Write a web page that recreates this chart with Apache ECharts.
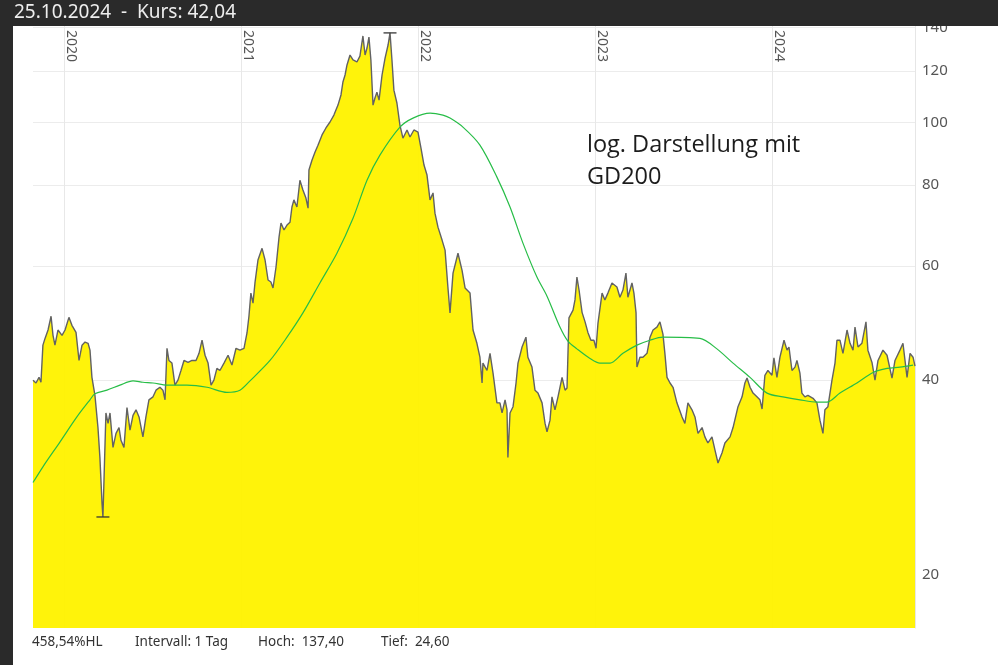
<!DOCTYPE html>
<html lang="de">
<head>
<meta charset="UTF-8">
<title>Kurs</title>
<script src="https://cdn.jsdelivr.net/npm/echarts@6.0.0/dist/echarts.min.js"></script>
<style>
  html, body { margin: 0; padding: 0; background: #fff; }
  #main { width: 998px; height: 665px; }
</style>
</head>
<body>
<div id="main"></div>
<script>
// Jahresmarken (oben) und Kursmarken (rechts, log. Skala)
const yearTicks = [2020, 2021, 2022, 2023, 2024];
const priceTicks = [20, 40, 60, 80, 100, 120, 140];

// Kurs [Jahr (dezimal), Kurs]
const kurs = [
  [2019.825, 40.0], [2019.842, 39.6], [2019.859, 40.4], [2019.870, 39.7], [2019.881, 45.3],
  [2019.893, 46.4], [2019.910, 47.8], [2019.927, 50.2], [2019.938, 46.9], [2019.949, 45.3],
  [2019.966, 47.8], [2019.989, 46.9], [2020.006, 47.8], [2020.028, 50.0], [2020.045, 48.6],
  [2020.068, 47.4], [2020.085, 42.9], [2020.102, 45.3], [2020.119, 45.8], [2020.136, 45.6],
  [2020.147, 44.5], [2020.158, 40.4], [2020.175, 37.9], [2020.192, 33.8], [2020.203, 30.4],
  [2020.215, 25.8], [2020.220, 24.6], [2020.226, 28.0], [2020.237, 35.6], [2020.249, 34.3],
  [2020.260, 35.6], [2020.277, 31.5], [2020.294, 33.1], [2020.311, 33.8], [2020.322, 32.3],
  [2020.339, 31.5], [2020.356, 36.3], [2020.373, 33.5], [2020.390, 35.3], [2020.407, 36.0],
  [2020.424, 35.1], [2020.446, 32.7], [2020.463, 35.1], [2020.480, 37.3], [2020.503, 37.7],
  [2020.520, 38.6], [2020.542, 39.0], [2020.559, 38.6], [2020.571, 37.3], [2020.582, 44.8],
  [2020.593, 42.9], [2020.610, 42.5], [2020.627, 39.3], [2020.644, 40.0], [2020.661, 41.4],
  [2020.678, 42.9], [2020.701, 42.6], [2020.723, 42.9], [2020.746, 42.9], [2020.763, 44.0],
  [2020.780, 46.1], [2020.797, 43.7], [2020.814, 42.5], [2020.831, 39.3], [2020.847, 40.0],
  [2020.864, 41.7], [2020.881, 41.4], [2020.904, 42.5], [2020.927, 43.7], [2020.949, 42.2],
  [2020.972, 44.8], [2020.994, 44.5], [2021.017, 44.8], [2021.034, 47.3], [2021.045, 50.2],
  [2021.056, 54.5], [2021.068, 52.6], [2021.079, 56.5], [2021.096, 61.3], [2021.119, 63.9],
  [2021.136, 61.3], [2021.153, 57.1], [2021.169, 56.7], [2021.181, 55.5], [2021.198, 59.8],
  [2021.215, 66.5], [2021.226, 69.9], [2021.243, 68.2], [2021.260, 69.4], [2021.277, 70.1],
  [2021.288, 74.0], [2021.299, 75.9], [2021.316, 74.0], [2021.333, 81.4], [2021.350, 78.6],
  [2021.367, 76.4], [2021.379, 73.7], [2021.384, 84.4], [2021.401, 87.4], [2021.418, 89.9],
  [2021.435, 92.2], [2021.458, 95.6], [2021.480, 98.0], [2021.503, 100.1], [2021.525, 102.6],
  [2021.548, 106.3], [2021.565, 110.2], [2021.576, 115.4], [2021.588, 118.3], [2021.599, 122.6],
  [2021.616, 127.0], [2021.633, 124.8], [2021.655, 123.9], [2021.672, 126.5], [2021.689, 135.9],
  [2021.701, 127.0], [2021.712, 130.2], [2021.723, 135.4], [2021.734, 124.8], [2021.746, 106.3],
  [2021.757, 109.0], [2021.768, 111.3], [2021.780, 108.2], [2021.797, 118.3], [2021.814, 125.6],
  [2021.831, 131.6], [2021.842, 137.4], [2021.853, 124.8], [2021.864, 112.1], [2021.881, 107.1],
  [2021.898, 99.0], [2021.915, 94.5], [2021.938, 97.3], [2021.955, 94.9], [2021.977, 97.3],
  [2022.000, 96.6], [2022.017, 91.2], [2022.034, 85.9], [2022.051, 82.9], [2022.068, 75.9],
  [2022.085, 77.8], [2022.096, 72.4], [2022.113, 68.9], [2022.136, 65.8], [2022.153, 63.5],
  [2022.169, 55.7], [2022.181, 50.8], [2022.198, 58.5], [2022.226, 62.8], [2022.249, 59.1],
  [2022.266, 55.5], [2022.294, 54.5], [2022.311, 47.8], [2022.333, 45.6], [2022.350, 43.4],
  [2022.362, 39.6], [2022.367, 42.5], [2022.390, 41.4], [2022.407, 44.0], [2022.424, 41.0],
  [2022.446, 36.9], [2022.463, 36.9], [2022.475, 35.6], [2022.492, 37.3], [2022.503, 36.0],
  [2022.508, 30.4], [2022.520, 35.6], [2022.537, 36.4], [2022.554, 39.6], [2022.565, 42.5],
  [2022.588, 45.0], [2022.610, 46.6], [2022.621, 43.4], [2022.644, 41.9], [2022.661, 38.6],
  [2022.678, 38.2], [2022.701, 36.9], [2022.718, 34.3], [2022.729, 33.3], [2022.746, 34.7],
  [2022.757, 37.7], [2022.774, 36.0], [2022.791, 37.7], [2022.814, 40.4], [2022.831, 38.6],
  [2022.842, 38.9], [2022.853, 49.9], [2022.876, 51.3], [2022.887, 53.2], [2022.898, 57.7],
  [2022.910, 55.1], [2022.927, 50.9], [2022.944, 49.2], [2022.960, 47.4], [2022.977, 46.1],
  [2022.994, 46.1], [2023.006, 44.8], [2023.017, 49.0], [2023.040, 54.5], [2023.056, 53.2],
  [2023.073, 54.5], [2023.096, 56.5], [2023.124, 55.7], [2023.141, 53.7], [2023.158, 55.1],
  [2023.175, 58.5], [2023.186, 53.7], [2023.209, 56.5], [2023.220, 54.5], [2023.232, 50.8],
  [2023.237, 41.9], [2023.254, 43.4], [2023.271, 43.4], [2023.294, 44.0], [2023.311, 46.6],
  [2023.328, 47.8], [2023.350, 48.3], [2023.367, 49.2], [2023.384, 47.1], [2023.395, 44.0],
  [2023.407, 40.4], [2023.424, 39.6], [2023.441, 39.0], [2023.463, 36.9], [2023.492, 35.1],
  [2023.508, 34.3], [2023.525, 36.9], [2023.548, 36.0], [2023.565, 35.1], [2023.582, 33.1],
  [2023.605, 33.8], [2023.621, 32.7], [2023.638, 32.0], [2023.661, 32.7], [2023.678, 31.2],
  [2023.695, 29.8], [2023.718, 30.9], [2023.734, 32.0], [2023.763, 32.7], [2023.780, 33.8],
  [2023.808, 36.4], [2023.831, 37.7], [2023.847, 39.6], [2023.859, 40.3], [2023.876, 39.0],
  [2023.893, 38.2], [2023.915, 37.7], [2023.932, 37.3], [2023.944, 36.1], [2023.960, 40.7],
  [2023.977, 41.4], [2024.000, 40.7], [2024.011, 43.3], [2024.028, 40.4], [2024.045, 43.4],
  [2024.068, 46.1], [2024.085, 44.5], [2024.096, 45.0], [2024.113, 41.4], [2024.130, 41.9],
  [2024.141, 42.9], [2024.158, 41.0], [2024.169, 38.2], [2024.186, 37.7], [2024.203, 37.9],
  [2024.232, 37.5], [2024.254, 36.9], [2024.271, 34.7], [2024.288, 33.1], [2024.299, 36.0],
  [2024.316, 36.4], [2024.339, 40.0], [2024.356, 42.5], [2024.367, 46.1], [2024.384, 46.1],
  [2024.401, 44.0], [2024.424, 47.8], [2024.441, 45.6], [2024.458, 44.5], [2024.469, 48.3],
  [2024.486, 45.0], [2024.508, 45.6], [2024.531, 49.2], [2024.542, 44.5], [2024.565, 42.6],
  [2024.582, 40.0], [2024.599, 42.9], [2024.627, 44.5], [2024.650, 43.7], [2024.678, 40.3],
  [2024.695, 42.9], [2024.723, 44.5], [2024.740, 45.6], [2024.763, 40.4], [2024.780, 44.0],
  [2024.797, 43.4], [2024.808, 42.04]
];

// GD200 [Jahr, Wert]
const gd200 = [
  [2019.825, 27.8], [2019.881, 29.4], [2019.977, 32.1], [2020.073, 35.1], [2020.147, 37.3],
  [2020.175, 38.1], [2020.243, 38.6], [2020.316, 39.3], [2020.390, 39.9], [2020.446, 39.7],
  [2020.503, 39.6], [2020.582, 39.3], [2020.695, 39.3], [2020.808, 39.0], [2020.921, 38.3],
  [2020.994, 38.6], [2021.051, 39.9], [2021.164, 42.9], [2021.260, 46.6], [2021.350, 50.8],
  [2021.446, 56.5], [2021.542, 62.8], [2021.633, 71.1], [2021.712, 81.4], [2021.785, 89.0],
  [2021.898, 98.3], [2021.972, 101.5], [2022.068, 103.3], [2022.141, 102.6], [2022.181, 101.5],
  [2022.254, 98.3], [2022.350, 92.2], [2022.446, 82.3], [2022.520, 74.0], [2022.593, 65.1],
  [2022.672, 57.7], [2022.729, 53.9], [2022.802, 48.3], [2022.848, 45.9], [2022.898, 44.7],
  [2022.972, 43.2], [2023.028, 42.5], [2023.085, 42.5], [2023.158, 44.0], [2023.237, 45.3],
  [2023.311, 46.1], [2023.384, 46.6], [2023.593, 46.4], [2023.689, 44.7], [2023.780, 42.5],
  [2023.876, 40.4], [2023.972, 38.2], [2024.062, 37.7], [2024.158, 37.3], [2024.254, 37.0],
  [2024.311, 37.0], [2024.384, 38.2], [2024.480, 39.6], [2024.571, 41.1], [2024.650, 41.7],
  [2024.723, 41.9], [2024.797, 42.2]
];

// Hoch / Tief
const extremes = [[2021.842, 137.4], [2020.220, 24.6]];

const chart = echarts.init(document.getElementById('main'));
const option = {
  animation: false,
  backgroundColor: '#fff',
  grid: { left: 33, right: 83, top: 26, bottom: 37 },
  xAxis: {
    type: 'value',
    position: 'top',
    min: 2019.825,
    max: 2024.808,
    axisLine: { show: false },
    axisTick: { show: false, customValues: yearTicks },
    axisLabel: {
      customValues: yearTicks,
      inside: true,
      rotate: 90,
      margin: 4,
      verticalAlign: 'bottom',
      color: '#555',
      fontSize: 14,
      fontFamily: 'Noto Sans',
      formatter: v => String(Math.round(v))
    },
    splitLine: { show: true, lineStyle: { color: '#e8e8e8', width: 1 } }
  },
  yAxis: {
    type: 'log',
    logBase: 10,
    position: 'right',
    min: 16.58,
    max: 140.8,
    axisLine: { show: true, lineStyle: { color: '#e6e6e6' } },
    axisTick: { show: false, customValues: priceTicks },
    axisLabel: {
      customValues: priceTicks,
      color: '#555',
      fontSize: 15,
      fontFamily: 'Noto Sans',
      margin: 7
    },
    splitLine: { show: true, lineStyle: { color: '#ececec', width: 1 } }
  },
  series: [
    {
      name: 'Kurs',
      type: 'line',
      data: kurs,
      showSymbol: false,
      lineStyle: { color: '#626262', width: 1.4 },
      areaStyle: { color: '#fff200', opacity: 0.96, origin: 'start' },
      z: 2
    },
    {
      name: 'GD200',
      type: 'line',
      data: gd200,
      smooth: 0.3,
      showSymbol: false,
      lineStyle: { color: '#27bd47', width: 1.2 },
      z: 3
    },
    {
      name: 'HochTief',
      type: 'scatter',
      data: extremes,
      symbol: 'rect',
      symbolSize: [13, 1.6],
      itemStyle: { color: '#333' },
      z: 4
    }
  ],
  graphic: [
    { type: 'rect', shape: { x: 0, y: 0, width: 998, height: 26 }, style: { fill: '#2a2a2a' }, z: 100 },
    { type: 'rect', shape: { x: 0, y: 0, width: 13, height: 665 }, style: { fill: '#2a2a2a' }, z: 100 },
    {
      type: 'text', x: 14, y: 13, z: 101,
      style: { text: '25.10.2024  -  Kurs: 42,04', fill: '#eeeeee', font: '19px "Noto Sans"', verticalAlign: 'middle' }
    },
    {
      type: 'text', x: 587, y: 145, z: 50,
      style: { text: 'log. Darstellung mit', fill: '#1c1c1c', font: '23.5px "Open Sans"', verticalAlign: 'middle' }
    },
    {
      type: 'text', x: 587, y: 177, z: 50,
      style: { text: 'GD200', fill: '#1c1c1c', font: '23.5px "Open Sans"', verticalAlign: 'middle' }
    },
    { type: 'text', x: 32, y: 642, style: { text: '458,54%HL', fill: '#333', font: '13.5px "Noto Sans"', verticalAlign: 'middle' } },
    { type: 'text', x: 135, y: 642, style: { text: 'Intervall: 1 Tag', fill: '#333', font: '13.5px "Noto Sans"', verticalAlign: 'middle' } },
    { type: 'text', x: 258, y: 642, style: { text: 'Hoch:  137,40', fill: '#333', font: '13.5px "Noto Sans"', verticalAlign: 'middle' } },
    { type: 'text', x: 381, y: 642, style: { text: 'Tief:  24,60', fill: '#333', font: '13.5px "Noto Sans"', verticalAlign: 'middle' } }
  ]
};
chart.setOption(option);
</script>
</body>
</html>
